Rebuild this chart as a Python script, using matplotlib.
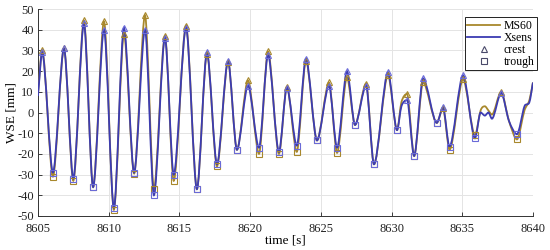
import matplotlib
matplotlib.use("Agg")
import matplotlib.pyplot as plt
from matplotlib.path import Path
from matplotlib.patches import PathPatch
from matplotlib.lines import Line2D
import numpy as np

plt.rcParams['font.family'] = ['Liberation Serif', 'DejaVu Serif']
plt.rcParams['axes.unicode_minus'] = False

# Xsens record (time [s], WSE [mm]) read at turning points
t_xs = [8605.0, 8605.3, 8606.06, 8606.84, 8607.5, 8608.25, 8608.9, 8609.67, 8610.37,
        8611.08, 8611.8, 8612.57, 8613.2, 8613.98, 8614.6, 8615.47, 8616.24, 8616.95,
        8617.66, 8618.44, 8619.07, 8619.85, 8620.63, 8621.27, 8622.04, 8622.6, 8623.3,
        8623.95, 8624.73, 8625.58, 8626.15, 8626.85, 8627.42, 8628.2, 8628.76, 8629.75,
        8630.39, 8630.7, 8631.1, 8631.6, 8632.23, 8633.2, 8633.64, 8634.1, 8635.06,
        8635.9, 8636.3, 8636.6, 8636.85, 8637.1, 8637.75, 8638.3, 8638.87, 8639.4,
        8639.75, 8640.0]
v_xs = [8, 29, -29, 31, -32, 43, -36, 40, -46,
        41, -29, 40, -40, 36, -30, 41, -37, 29,
        -25, 25, -18, 13, -17, 28, -19, 12, -16,
        26, -13.5, 13, -17, 20, -6, 13, -25, 19.5,
        -8.5, 3, 6, -21, 16.5, -5, 2.5, -16.5, 18,
        -12.5, 0, -1.5, 0, -3, 9.5, -4, -10.5, 3,
        5, 14.5]

# MS60 record
t_ms = t_xs
v_ms = [9, 30, -31, 31, -33, 44.5, -36, 44, -47,
        38, -29.5, 47, -37, 37, -33, 42, -37, 28.5,
        -26, 24.5, -18, 15.5, -20, 29.5, -20, 12.5, -19,
        25, -13.5, 14.5, -19.5, 17, -6, 14, -25, 18,
        -8.5, 5, 9, -21, 14.5, -5, 2, -18, 16,
        -11, 1, 3, 1, -1, 10, -4, -13, 1,
        6, 14.5]

# indices of crests and troughs in the records above
crest_idx = [1, 3, 5, 7, 9, 11, 13, 15, 17, 19, 21, 23, 25, 27, 29, 31, 33, 35,
             38, 40, 42, 44, 50]
trough_idx = [2, 4, 6, 8, 10, 12, 14, 16, 18, 20, 22, 24, 26, 28, 30, 32, 34,
              36, 39, 41, 43, 45, 52]

c_ms = '#a8882c'
c_xs = '#3c3cb2'


def smooth_path(t, v, k=0.3):
    """Cubic Hermite curve through the read points (drawn as Bezier path)."""
    t = np.asarray(t, float); v = np.asarray(v, float)
    n = len(t)
    m = np.zeros(n)
    for i in range(n):
        if i == 0:
            m[i] = (v[1] - v[0]) / (t[1] - t[0])
        elif i == n - 1:
            m[i] = (v[-1] - v[-2]) / (t[-1] - t[-2])
        else:
            d0 = v[i] - v[i - 1]; d1 = v[i + 1] - v[i]
            if d0 * d1 <= 0:
                m[i] = 0.0
            else:
                m[i] = (v[i + 1] - v[i - 1]) / (t[i + 1] - t[i - 1])
    verts = [(t[0], v[0])]
    codes = [Path.MOVETO]
    for i in range(n - 1):
        dt = t[i + 1] - t[i]
        h = k * dt
        verts += [(t[i] + h, v[i] + m[i] * h), (t[i + 1] - h, v[i + 1] - m[i + 1] * h),
                  (t[i + 1], v[i + 1])]
        codes += [Path.CURVE4] * 3
    return Path(verts, codes)


fig = plt.figure(figsize=(5.5, 2.5), dpi=100)
ax = fig.add_axes([0.069, 0.136, 0.9, 0.828])

ax.add_patch(PathPatch(smooth_path(t_ms, v_ms), fc='none', ec=c_ms, lw=1.3, zorder=3))
ax.add_patch(PathPatch(smooth_path(t_xs, v_xs), fc='none', ec=c_xs, lw=1.3, zorder=4))

tm = np.array(t_ms); vm = np.array(v_ms)
tx = np.array(t_xs); vx = np.array(v_xs)
ax.plot(tm[crest_idx], vm[crest_idx], ls='none', marker='^', ms=5, mfc='none',
        mec=c_ms, mew=0.8, zorder=5)
ax.plot(tm[trough_idx], vm[trough_idx], ls='none', marker='s', ms=4, mfc='none',
        mec=c_ms, mew=0.8, zorder=5)
ax.plot(tx[crest_idx], vx[crest_idx], ls='none', marker='^', ms=5, mfc='none',
        mec='#6a6ad8', mew=0.8, zorder=6)
ax.plot(tx[trough_idx], vx[trough_idx], ls='none', marker='s', ms=4, mfc='none',
        mec='#6a6ad8', mew=0.8, zorder=6)

handles = [Line2D([], [], color=c_ms, lw=1.3),
           Line2D([], [], color=c_xs, lw=1.3),
           Line2D([], [], ls='none', marker='^', ms=5, mfc='none', mec='#4a4a6a', mew=0.8),
           Line2D([], [], ls='none', marker='s', ms=4, mfc='none', mec='#4a4a6a', mew=0.8)]
labels = ['MS60', 'Xsens', 'crest', 'trough']

ax.set_xlim(8605, 8640)
ax.set_ylim(-50, 50)
ax.set_xticks(np.arange(8605, 8641, 5))
ax.set_yticks(np.arange(-50, 51, 10))
ax.grid(True, color='#e4e4e4', lw=0.7)
ax.set_axisbelow(True)
for s in ['top', 'right']:
    ax.spines[s].set_visible(False)
for s in ['left', 'bottom']:
    ax.spines[s].set_color('#333333')
    ax.spines[s].set_linewidth(0.7)
ax.tick_params(direction='in', length=3, width=0.6, labelsize=9, colors='#222222', pad=3)
ax.tick_params(axis='x', pad=5)
ax.set_xlabel('time [s]', fontsize=9.5, labelpad=0)
ax.set_ylabel('WSE [mm]', fontsize=9.5, labelpad=0)

leg = ax.legend(handles, labels, loc='upper right', bbox_to_anchor=(1.008, 0.96),
                fontsize=8.5, frameon=True, fancybox=False,
                edgecolor='#222222', framealpha=1, handlelength=2.8,
                borderpad=0.2, labelspacing=0.0, handletextpad=0.3,
                borderaxespad=0.0)
leg.get_frame().set_linewidth(0.7)

fig.savefig('out.png', dpi=100)
